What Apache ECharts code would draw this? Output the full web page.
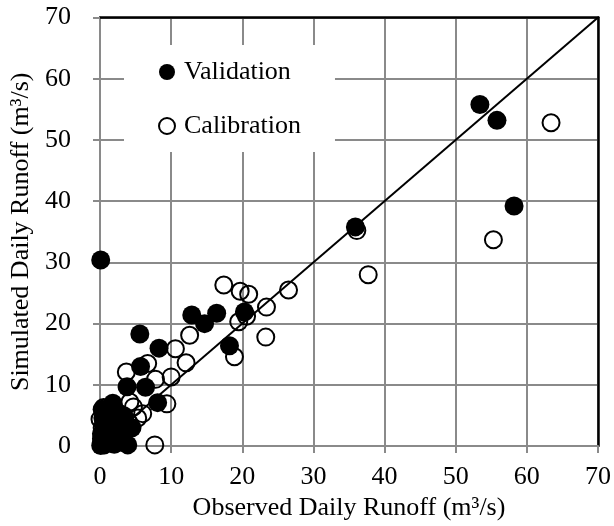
<!DOCTYPE html>
<html>
<head>
<meta charset="utf-8">
<script src="https://cdn.jsdelivr.net/npm/echarts@6/dist/echarts.min.js"></script>
<style>
  html, body { margin: 0; background: #fff; }
  #chart { width: 614px; height: 526px; }
</style>
</head>
<body>
<div id="chart"></div>
<script>
// observed vs simulated daily runoff
const validation = [
  [0.1, 30.4], [53.4, 55.8], [55.8, 53.2], [58.2, 39.2], [35.9, 35.8],
  [20.3, 21.9], [16.4, 21.7], [12.9, 21.4], [14.7, 20.0], [18.2, 16.4],
  [8.3, 16.0], [5.6, 18.3], [5.7, 13.0], [3.8, 9.7], [6.4, 9.6],
  [8.1, 7.1], [3.9, 0.2],
  [1.8, 7.0], [0.3, 6.0], [2.5, 5.5], [1.0, 5.0], [2.0, 4.0], [3.5, 4.2],
  [0.5, 3.5], [1.5, 3.0], [3.0, 2.5], [0.2, 2.0], [1.0, 1.5], [2.5, 1.5],
  [0.3, 0.8], [1.2, 0.5], [0.1, 0.1], [2.0, 0.3], [0.6, 0.2], [4.5, 3.0],
  [1.4, 6.2], [0.4, 4.6], [1.8, 2.2], [2.8, 3.6], [0.8, 2.6], [1.6, 1.0],
  [0.2, 1.2], [2.6, 0.6], [3.3, 5.0], [1.2, 4.0]
];
const calibration = [
  [63.4, 52.8], [55.3, 33.7], [36.1, 35.2], [37.7, 28.0],
  [17.4, 26.3], [19.7, 25.3], [20.9, 24.8], [26.5, 25.5], [23.4, 22.7],
  [19.5, 20.3], [20.6, 21.2], [23.3, 17.8], [18.9, 14.6], [12.6, 18.1],
  [10.6, 15.9], [12.1, 13.6], [10.0, 11.3], [7.8, 10.9], [6.7, 13.5],
  [3.7, 12.1], [9.4, 6.9], [7.7, 0.2], [6.0, 5.3], [4.7, 6.4], [5.3, 4.6],
  [4.2, 7.2], [0.5, 6.3], [0.0, 4.4], [1.0, 4.2], [0.3, 3.0], [0.5, 1.5],
  [2.0, 2.0], [3.0, 3.5], [0.2, 0.5], [1.5, 1.0], [4.0, 4.0]
];
const oneToOne = [[0, 0], [70, 70]];
const axisMin = 0, axisMax = 70, axisStep = 10;

const font = 'Liberation Serif';
const gridGray = '#8a8a8a';

const chart = echarts.init(document.getElementById('chart'));

function valueAxis(extra) {
  return Object.assign({
    type: 'value',
    min: axisMin,
    max: axisMax,
    interval: axisStep,
    axisLine: { show: true, lineStyle: { color: gridGray, width: 2 } },
    axisTick: { show: true, length: 7, lineStyle: { color: gridGray, width: 2 } },
    splitLine: { show: true, lineStyle: { color: gridGray, width: 2 } },
    axisLabel: { color: '#000', fontFamily: font, fontSize: 26 },
    nameLocation: 'middle',
    nameTextStyle: { color: '#000', fontFamily: font, fontSize: 26 }
  }, extra);
}

// top and right frame lines are black
function frameAxis(pos) {
  return {
    type: 'value', position: pos, min: axisMin, max: axisMax, interval: axisStep,
    axisLine: { show: true, onZero: false, lineStyle: { color: '#000', width: 2.5 } },
    axisTick: { show: false }, axisLabel: { show: false }, splitLine: { show: false }
  };
}

chart.setOption({
  animation: false,
  title: {
    text: 'Daily',
    left: 318,
    top: -31,
    textStyle: { fontFamily: 'Liberation Sans', fontWeight: 'bold', fontSize: 26, color: '#000' }
  },
  grid: { left: 100, right: 14, top: 17.5, bottom: 70.5 },
  legend: {
    orient: 'vertical',
    left: 124,
    top: 45,
    backgroundColor: '#fff',
    padding: [14, 34, 13, 34],
    itemGap: 28,
    itemWidth: 16,
    itemHeight: 16,
    icon: 'circle',
    textStyle: { fontFamily: font, fontSize: 26, color: '#000', padding: [0, 0, 0, 4] },
    data: ['Validation', 'Calibration']
  },
  xAxis: [
    valueAxis({
      name: 'Observed Daily Runoff (m³/s)',
      nameGap: 45,
      axisLabel: { color: '#000', fontFamily: font, fontSize: 26, margin: 18 }
    }),
    frameAxis('top')
  ],
  yAxis: [
    valueAxis({
      name: 'Simulated Daily Runoff (m³/s)',
      nameGap: 64,
      axisLabel: { color: '#000', fontFamily: font, fontSize: 26, margin: 29 }
    }),
    frameAxis('right')
  ],
  series: [
    {
      type: 'line',
      data: oneToOne,
      symbol: 'none',
      silent: true,
      lineStyle: { color: '#000', width: 2 },
      z: 1
    },
    {
      name: 'Calibration',
      type: 'scatter',
      data: calibration,
      symbol: 'circle',
      symbolSize: 17,
      itemStyle: { color: 'rgba(255,255,255,0)', borderColor: '#000', borderWidth: 2, opacity: 1 },
      z: 2
    },
    {
      name: 'Validation',
      type: 'scatter',
      data: validation,
      symbol: 'circle',
      symbolSize: 19,
      itemStyle: { color: '#000', opacity: 1 },
      z: 3
    }
  ]
});
</script>
</body>
</html>
